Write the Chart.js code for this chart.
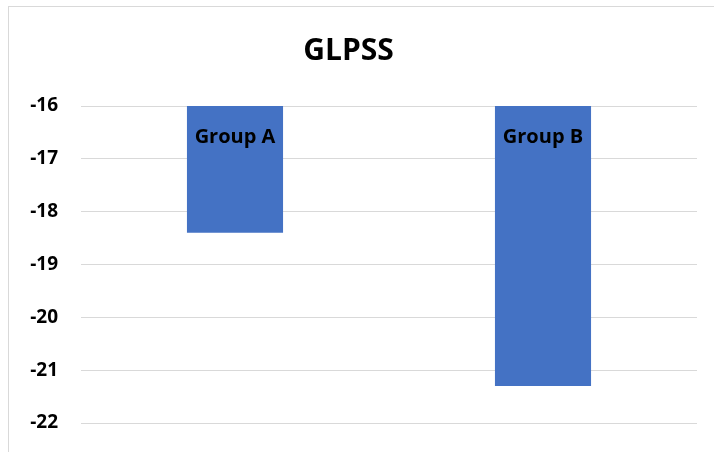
<!DOCTYPE html>
<html>
<head>
<meta charset="utf-8">
<script src="https://cdn.jsdelivr.net/npm/chart.js@4/dist/chart.umd.min.js"></script>
<style>
  html, body { margin: 0; padding: 0; background: #fff; overflow: hidden; }
  #wrap { position: relative; width: 714px; height: 452px; }
  #frame { position: absolute; left: 8px; top: 6px; width: 720px; height: 460px; border: 1px solid #d9d9d9; box-sizing: border-box; pointer-events: none; }
  canvas { position: absolute; left: 0; top: 0; }
</style>
</head>
<body>
<div id="wrap">
  <canvas id="c" width="714" height="452"></canvas>
  <div id="frame"></div>
</div>
<script>
const categories = ["Group A", "Group B"];
const glpssValues = [-18.4, -21.3];
const yTicks = [-16, -17, -18, -19, -20, -21, -22];
const chartTitle = "GLPSS";

const FONT = "'Open Sans', 'Liberation Sans', sans-serif";

const categoryLabelPlugin = {
  id: 'categoryLabels',
  afterDatasetsDraw(chart) {
    const ctx = chart.ctx;
    const xs = chart.scales.x;
    const ys = chart.scales.y;
    ctx.save();
    ctx.font = "bold 20px " + FONT;
    ctx.fillStyle = "#000";
    ctx.textAlign = "center";
    ctx.textBaseline = "middle";
    categories.forEach((c, i) => {
      ctx.fillText(c, xs.getPixelForValue(i), ys.getPixelForValue(yTicks[0]) + 31);
    });
    ctx.restore();
  }
};

new Chart(document.getElementById('c'), {
  type: 'bar',
  data: {
    labels: categories,
    datasets: [{
      data: glpssValues,
      backgroundColor: '#4472C4',
      borderWidth: 0,
      categoryPercentage: 1.0,
      barPercentage: 0.312
    }]
  },
  options: {
    responsive: false,
    animation: false,
    layout: { padding: { left: 0, right: 17, top: 0, bottom: 29 } },
    plugins: {
      legend: { display: false },
      tooltip: { enabled: false },
      title: {
        display: true,
        text: chartTitle,
        color: '#000',
        font: { family: FONT, size: 30, weight: 'bold' },
        padding: { top: 33, bottom: 37 }
      }
    },
    scales: {
      x: { display: false },
      y: {
        min: Math.min(...yTicks),
        max: Math.max(...yTicks),
        afterFit(scale) {
          scale.width = 81;
          scale.paddingTop = 0;
          scale.paddingBottom = 0;
        },
        afterBuildTicks(scale) { scale.ticks = yTicks.map(v => ({ value: v })); },
        border: { display: false },
        grid: { color: '#d9d9d9', lineWidth: 1, drawTicks: false },
        ticks: {
          color: '#000',
          padding: 23,
          font: { family: FONT, size: 19, weight: 'bold' },
          callback: v => String(v)
        }
      }
    }
  },
  plugins: [categoryLabelPlugin]
});
</script>
</body>
</html>
